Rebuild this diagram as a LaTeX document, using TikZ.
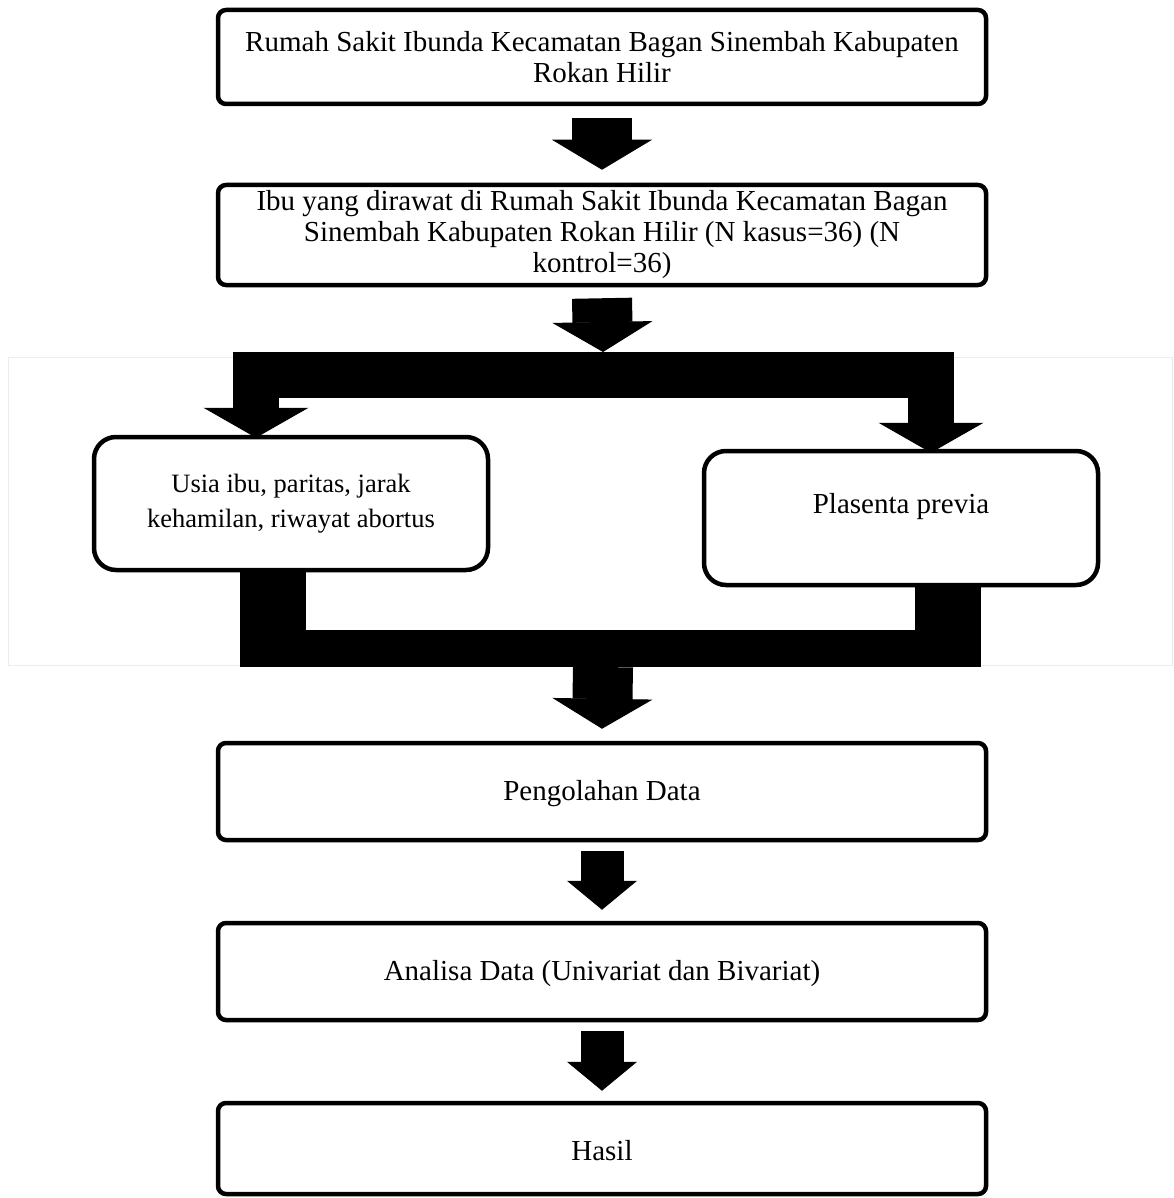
\documentclass[tikz,border=0pt]{standalone}
\usepackage{fontspec}
\setmainfont{Liberation Serif}
\usetikzlibrary{arrows.meta,calc}

\begin{document}
\begin{tikzpicture}[x=1pt,y=-1pt,
    flowbox/.style={draw,line width=4.5pt,rounded corners=8pt,minimum width=768pt,
      inner sep=0pt,align=center,font=\fontsize{29}{31}\selectfont},
    roundbox/.style={draw,line width=4.5pt,rounded corners=22pt,minimum width=394pt,
      minimum height=133pt,inner sep=0pt,align=center},
    fatarrow/.style={line width=60pt,-{Triangle[width=100pt,length=30pt,line width=1pt]}},
    slimarrow/.style={line width=43pt,-{Triangle[width=70pt,length=29pt,line width=1pt]}},
    splitbar/.style={line width=46pt,line join=miter,
      {Triangle[width=105pt,length=30pt,line width=1pt]}-{Triangle[width=105pt,length=30pt,line width=1pt]}}]
        \useasboundingbox (0,0) rectangle (1173,1198);

        % light frame round the split part
        \draw[gray!15,line width=1pt] (8,357) rectangle (1172,665);

        \node[flowbox,minimum height=94pt] (rs) at (602,57)
          {Rumah Sakit Ibunda Kecamatan Bagan Sinembah Kabupaten\\Rokan Hilir};
        \node[flowbox,minimum height=100pt] (ibu) at (602,235)
          {Ibu yang dirawat di Rumah Sakit Ibunda Kecamatan Bagan\\Sinembah Kabupaten Rokan Hilir (N kasus=36) (N\\kontrol=36)};

        \node[roundbox,font=\fontsize{26.5}{35}\selectfont] (usia) at (291,503.5)
          {Usia ibu, paritas, jarak\\kehamilan, riwayat abortus};
        \node[roundbox,minimum height=134pt,font=\fontsize{29}{30}\selectfont] (plasenta) at (901,518)
          {Plasenta previa\\\mbox{}};

        \node[flowbox,minimum height=97pt] (olah) at (602,791.5) {\rule{0pt}{24pt}Pengolahan Data};
        \node[flowbox,minimum height=97pt] (analisa) at (602,971.5) {\rule{0pt}{24pt}Analisa Data (Univariat dan Bivariat)};
        \node[flowbox,minimum height=91pt] (hasil) at (602,1148.5) {\rule{0pt}{24pt}Hasil};

        \coordinate (split) at (603,375);
        \coordinate (merge) at (603,667);
        \coordinate (mergebar) at (603,648.5);

        \draw[fatarrow] ([yshift=-12pt]rs.south) -- ([yshift=13pt]ibu.north);
        \draw[fatarrow] ([yshift=-11pt]ibu.south) -- ([yshift=23pt]split);

        \draw[splitbar] ([xshift=-35pt,yshift=-3pt]usia.north) |- (split) -| ([xshift=30pt,yshift=-4pt]plasenta.north);

        \draw[line width=66pt] ([xshift=-18pt,yshift=2pt]usia.south) -- ([xshift=-18pt]usia.south |- merge);
        \draw[line width=66pt] ([xshift=47pt,yshift=2pt]plasenta.south) -- ([xshift=47pt]plasenta.south |- merge);
        \draw[line width=37pt] ([xshift=-51pt]usia.south |- mergebar) -- ([xshift=80pt]plasenta.south |- mergebar);

        \draw[fatarrow] (merge) -- ([yshift=12pt]olah.north);
        \draw[slimarrow] ([yshift=-9pt]olah.south) -- ([yshift=11pt]analisa.north);
        \draw[slimarrow] ([yshift=-9pt]analisa.south) -- ([yshift=10pt]hasil.north);
      \end{tikzpicture}
\end{document}
